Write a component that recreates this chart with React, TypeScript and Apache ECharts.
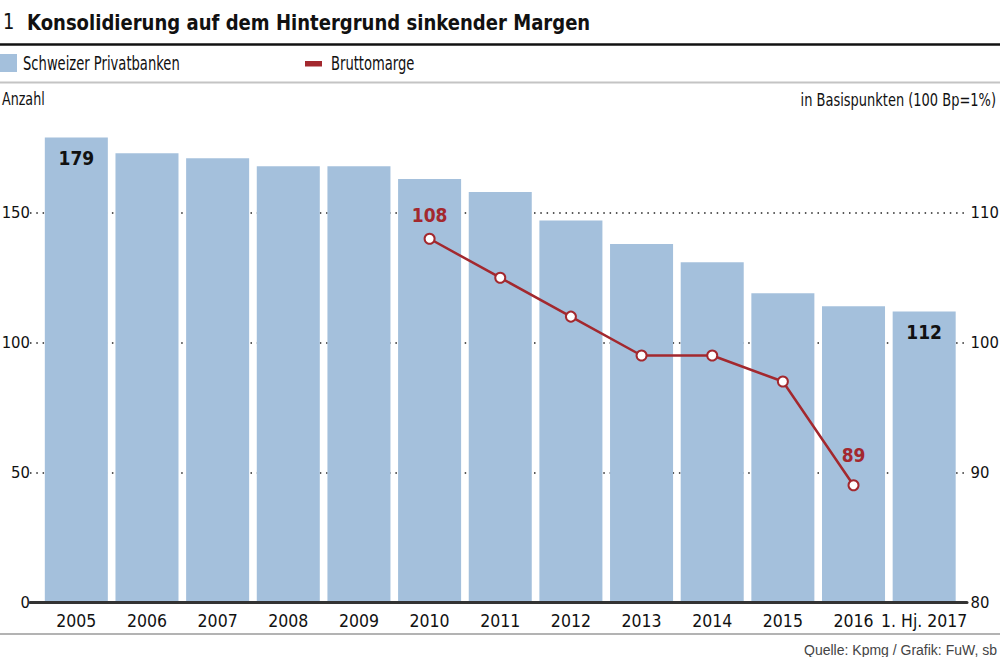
import React, { useEffect, useRef } from "react";
import * as echarts from "echarts";

const categories = ["2005", "2006", "2007", "2008", "2009", "2010", "2011", "2012", "2013", "2014", "2015", "2016", "1. Hj. 2017"];
const banks = [179, 173, 171, 168, 168, 163, 158, 147, 138, 131, 119, 114, 112];
const margin = [null, null, null, null, null, 108, 105, 102, 99, 99, 97, 89, null];
const barLabelIdx = [0, 12];
const lineLabelIdx = [5, 11];
const seriesNames = ["Schweizer Privatbanken", "Bruttomarge"];

const NARROW = '"DejaVu Sans Condensed", "Liberation Sans Narrow", "Noto Sans", sans-serif';
const BLUE = "#a4c0dc";
const RED = "#a3282e";
const INK = "#111111";

export default function App() {
  const ref = useRef<HTMLDivElement>(null);
  useEffect(() => {
    if (!ref.current) return;
    const chart = echarts.init(ref.current, null, { renderer: "svg" });
    const barData = banks.map((v, i) =>
      barLabelIdx.includes(i) ? { value: v, label: { show: true } } : v
    );
    const lineData = margin.map((v, i) =>
      lineLabelIdx.includes(i)
        ? { value: v, label: { show: true, distance: i === 11 ? 15 : 8 } }
        : v
    );
    chart.setOption({
      animation: false,
      backgroundColor: "#ffffff",
      textStyle: { fontFamily: NARROW },
      grid: [
        { left: 41, right: 40.5, top: 135, bottom: 55, outerBoundsMode: "none", containLabel: false },
        { left: 30, right: 33, top: 213, bottom: 55, outerBoundsMode: "none", containLabel: false },
      ],
      xAxis: [
        {
          type: "category",
          gridIndex: 0,
          data: categories,
          axisLine: { show: false },
          axisTick: { show: false },
          axisLabel: { fontFamily: NARROW, fontSize: 17.5, color: INK, margin: 10, interval: 0 },
        },
        {
          type: "value",
          gridIndex: 1,
          min: 0,
          max: 1,
          z: 5,
          axisLine: { show: true, onZero: false, lineStyle: { color: "#333333", width: 3 } },
          axisTick: { show: false },
          axisLabel: { show: false },
          splitLine: { show: false },
        },
      ],
      yAxis: [
        {
          type: "value",
          gridIndex: 0,
          min: 0,
          max: 180,
          interval: 50,
          position: "left",
          axisLine: { show: false },
          axisTick: { show: false },
          splitLine: { show: false },
          axisLabel: { fontFamily: NARROW, fontSize: 16.5, color: INK, margin: 11, showMaxLabel: false },
        },
        {
          type: "value",
          gridIndex: 0,
          min: 80,
          max: 116,
          interval: 10,
          position: "right",
          axisLine: { show: false },
          axisTick: { show: false },
          splitLine: { show: false },
          axisLabel: { fontFamily: NARROW, fontSize: 16.5, color: INK, margin: 11, showMaxLabel: false },
        },
        {
          type: "value",
          gridIndex: 1,
          min: 0,
          max: 150,
          interval: 50,
          axisLine: { show: false },
          axisTick: { show: false },
          axisLabel: { show: false },
          splitLine: { show: true, lineStyle: { color: "#222222", width: 1.5, type: [1.5, 4.8] } },
        },
      ],
      series: [
        {
          name: seriesNames[0],
          type: "bar",
          xAxisIndex: 0,
          yAxisIndex: 0,
          data: barData,
          barCategoryGap: "10.8%",
          itemStyle: { color: BLUE },
          label: {
            show: false,
            position: "insideTop",
            distance: 11,
            fontFamily: NARROW,
            fontSize: 19,
            fontWeight: "bold",
            color: INK,
          },
          z: 2,
        },
        {
          name: seriesNames[1],
          type: "line",
          xAxisIndex: 0,
          yAxisIndex: 1,
          data: lineData,
          symbol: "emptyCircle",
          symbolSize: 10,
          lineStyle: { color: RED, width: 2.5 },
          itemStyle: { color: RED, borderColor: RED, borderWidth: 2.5 },
          label: {
            show: false,
            position: "top",
            fontFamily: NARROW,
            fontSize: 19,
            fontWeight: "bold",
            color: RED,
          },
          z: 4,
        },
      ],
      graphic: [
        { type: "text", x: 3, y: 22, scaleX: 0.9, style: { text: "1", font: `22px ${NARROW}`, fill: INK, verticalAlign: "middle" } },
        { type: "text", x: 27, y: 22, scaleX: 0.912, style: { text: "Konsolidierung auf dem Hintergrund sinkender Margen", font: `bold 22px ${NARROW}`, fill: INK, verticalAlign: "middle" } },
        { type: "line", shape: { x1: 0, y1: 44.5, x2: 1000, y2: 44.5 }, style: { stroke: "#111111", lineWidth: 2.5 } },
        { type: "rect", shape: { x: 0, y: 54, width: 17, height: 18 }, style: { fill: BLUE } },
        { type: "text", x: 23, y: 63.5, scaleX: 0.73, style: { text: seriesNames[0], font: `20px ${NARROW}`, fill: INK, verticalAlign: "middle" } },
        { type: "rect", shape: { x: 305, y: 61, width: 17, height: 5.5 }, style: { fill: RED } },
        { type: "text", x: 331, y: 63.5, scaleX: 0.73, style: { text: seriesNames[1], font: `20px ${NARROW}`, fill: INK, verticalAlign: "middle" } },
        { type: "line", shape: { x1: 0, y1: 82.5, x2: 1000, y2: 82.5 }, style: { stroke: "#c4c4c4", lineWidth: 2 } },
        { type: "text", x: 2, y: 100, scaleX: 0.83, style: { text: "Anzahl", font: `17px ${NARROW}`, fill: INK, verticalAlign: "middle" } },
        { type: "text", x: 996, y: 100, scaleX: 0.85, style: { text: "in Basispunkten (100 Bp=1%)", font: `17px ${NARROW}`, fill: INK, align: "right", verticalAlign: "middle" } },
        { type: "line", shape: { x1: 0, y1: 634, x2: 1000, y2: 634 }, style: { stroke: "#9a9a9a", lineWidth: 1.5 } },
        { type: "text", x: 997, y: 650, style: { text: "Quelle: Kpmg / Grafik: FuW, sb", font: `14px "Liberation Sans", sans-serif`, fill: "#444444", align: "right", verticalAlign: "middle" } },
      ],
    });
    return () => chart.dispose();
  }, []);
  return <div ref={ref} style={{ width: 1000, height: 657, position: "absolute", left: 0, top: 0 }} />;
}
